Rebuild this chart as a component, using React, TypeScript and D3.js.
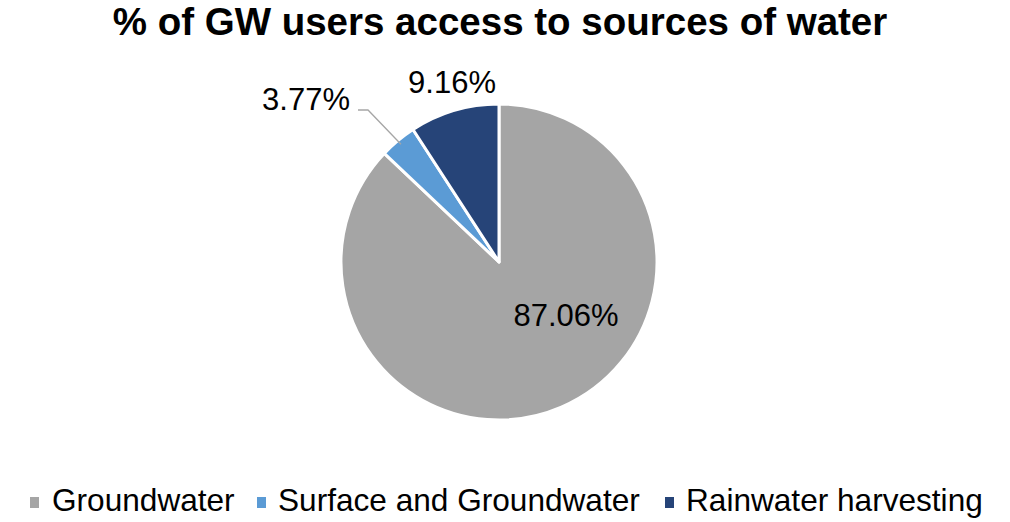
import React from "react";
import * as d3 from "d3";

const categories = ["Groundwater", "Surface and Groundwater", "Rainwater harvesting"];
const values = [87.06, 3.77, 9.16];
const labels = ["87.06%", "3.77%", "9.16%"];
const colors = ["#A5A5A5", "#5B9BD5", "#264478"];

const W = 1010;
const H = 522;
const cx = 499;
const cy = 262;
const R = 158;

export default function App() {
  const pie = d3.pie<number>().sort(null).value((d) => d)(values);
  const arc = d3.arc<d3.PieArcDatum<number>>().innerRadius(0).outerRadius(R);
  const surf = pie[1];
  const surfMid = (surf.startAngle + surf.endAngle) / 2;
  const lp0 = [cx + R * 0.97 * Math.sin(surfMid), cy - R * 0.97 * Math.cos(surfMid)];

  const font = "'Liberation Sans', Arial, sans-serif";
  const legendX = [30, 257, 665];
  const legendTextX = [52, 278, 686];

  return (
    <svg width={W} height={H} style={{ position: "absolute", left: 0, top: 0, background: "#fff" }}>
      <text x={500} y={35} textAnchor="middle" fontFamily={font} fontWeight="bold" fontSize={38.5} fill="#000">
        % of GW users access to sources of water
      </text>
      <g transform={`translate(${cx},${cy})`}>
        {pie.map((p, i) => (
          <path key={i} d={arc(p) || ""} fill={colors[i]} stroke="#fff" strokeWidth={3} strokeLinejoin="round" />
        ))}
      </g>
      <polyline
        points={`358,110 368,110 ${lp0[0]},${lp0[1]}`}
        fill="none"
        stroke="#A6A6A6"
        strokeWidth={1.3}
      />
      <text x={566} y={326} textAnchor="middle" fontFamily={font} fontSize={31} fill="#000">
        {labels[0]}
      </text>
      <text x={306} y={110} textAnchor="middle" fontFamily={font} fontSize={31} fill="#000">
        {labels[1]}
      </text>
      <text x={452} y={93} textAnchor="middle" fontFamily={font} fontSize={31} fill="#000">
        {labels[2]}
      </text>
      {categories.map((c, i) => (
        <g key={c}>
          <rect x={legendX[i]} y={497} width={9} height={11} fill={colors[i]} />
          <text x={legendTextX[i]} y={511} fontFamily={font} fontSize={31.6} fill="#000">
            {c}
          </text>
        </g>
      ))}
    </svg>
  );
}
